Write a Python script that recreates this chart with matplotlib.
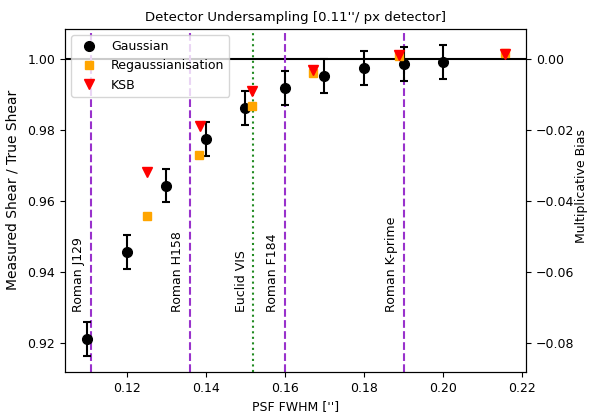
import matplotlib
matplotlib.use('Agg')
import matplotlib.pyplot as plt
import numpy as np

plt.rcParams['font.size'] = 9

# Gaussian fit results
gauss_fwhm = [0.11, 0.12, 0.13, 0.14, 0.15, 0.16, 0.17, 0.18, 0.19, 0.20]
gauss_ratio = [0.9212, 0.9457, 0.9643, 0.9775, 0.9863, 0.9918, 0.9953, 0.9974, 0.9986, 0.9991]
gauss_err = [0.0048, 0.0048, 0.0047, 0.0048, 0.0048, 0.0048, 0.0048, 0.0048, 0.0048, 0.0048]

# Regaussianisation
regauss_fwhm = [0.1252, 0.1384, 0.1518, 0.1672, 0.1889, 0.2155]
regauss_ratio = [0.9558, 0.9730, 0.9868, 0.9960, 1.0009, 1.0016]

# KSB
ksb_fwhm = [0.1252, 0.1385, 0.1518, 0.1671, 0.1889, 0.2155]
ksb_ratio = [0.9681, 0.9811, 0.9911, 0.9969, 1.0012, 1.0013]

# instrument PSF sizes
inst_names = ['Roman J129', 'Roman H158', 'Euclid VIS', 'Roman F184', 'Roman K-prime']
inst_fwhm = [0.111, 0.136, 0.152, 0.160, 0.190]
inst_style = [':' if 'Euclid' in n else '--' for n in inst_names]
inst_color = ['forestgreen' if 'Euclid' in n else 'darkorchid' for n in inst_names]

fig = plt.figure(figsize=(5.89, 4.12), dpi=100)
ax = fig.add_axes([0.110, 0.097, 0.783, 0.833])

ax.axhline(1.0, color='black', lw=1.5, zorder=1)

for name, x, ls, c in zip(inst_names, inst_fwhm, inst_style, inst_color):
    ax.axvline(x, color=c, ls=ls, lw=1.5, zorder=1)
    ax.text(x - 0.0014, 0.9287, name, rotation=90, ha='right', va='bottom', fontsize=9)

ax.errorbar(gauss_fwhm, gauss_ratio, yerr=gauss_err, fmt='none', ecolor='black',
            elinewidth=1.5, capsize=3, capthick=1.5, zorder=3)
ax.plot(gauss_fwhm, gauss_ratio, 'o', color='black', ms=7, label='Gaussian', zorder=4)
ax.plot(regauss_fwhm, regauss_ratio, 's', color='orange', ms=6, label='Regaussianisation', zorder=4)
ax.plot(ksb_fwhm, ksb_ratio, 'v', color='red', ms=6.5, label='KSB', zorder=5)

ax.set_xlim(0.1044, 0.2209)
ax.set_ylim(0.9118, 1.0085)
ax.set_xticks([0.12, 0.14, 0.16, 0.18, 0.20, 0.22])
ax.set_yticks([0.92, 0.94, 0.96, 0.98, 1.00])
ax.set_xlabel("PSF FWHM ['']", fontsize=9)
ax.set_ylabel('Measured Shear / True Shear', fontsize=10)
ax.yaxis.set_label_coords(-0.098, 0.53)
ax.set_title("Detector Undersampling [0.11''/ px detector]", fontsize=9.5)
ax.legend(loc='upper left', fontsize=9)

ax2 = ax.twinx()
lo, hi = ax.get_ylim()
ax2.set_ylim(lo - 1, hi - 1)
ax2.set_yticks([-0.08, -0.06, -0.04, -0.02, 0.00])
ax2.set_ylabel('Multiplicative Bias', fontsize=9)
ax2.yaxis.set_label_coords(1.106, 0.542)

fig.savefig('out.png', dpi=100)
